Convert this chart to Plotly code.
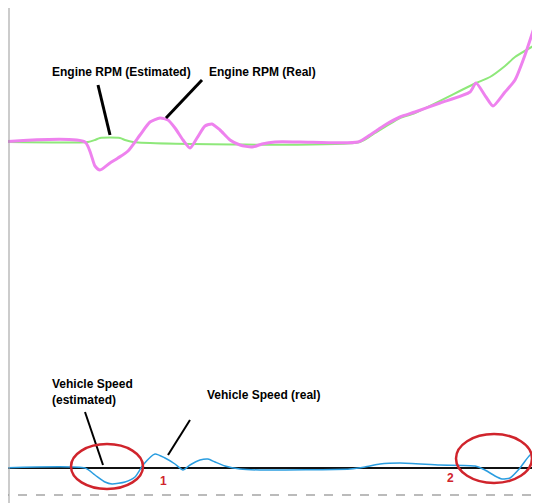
import plotly.graph_objects as go

# Engine RPM (real) trace, picture coordinates (time index, level)
rpm_real_x = [0,85,95,100,110,118,128,140,150,160,168,175,183,190,197,205,212,220,230,240,252,262,275,300,358,370,385,400,415,440,470,476,486,493,505,515,525,535]
rpm_real_y = [142,142,166,170,163,158,151,135,122,118,120,128,140,148,138,126,124,130,140,145,147,144,142,142,142,135,125,117,112,103,92,83,97,106,92,80,55,25]
rpm_est_x = [0,88,95,100,120,125,133,360,375,400,415,476,490,505,515,535]
rpm_est_y = [142,142,140,138,138,140,142,142,133,118,113,83,77,66,57,45]
spd_real_x = [0,85,95,105,112,125,135,143,155,165,175,183,190,200,208,215,225,240,260,350,365,380,400,440,475,485,495,502,510,520,530,540]
spd_real_y = [468,468,475,482,484,482,477,465,454,458,464,470,465,460,459,462,466,469,470,469,467,464,463,465,466,470,476,479,478,468,455,450]
spd_est_x = [0,540]
spd_est_y = [468,468]

OFF = 8  # page offset of the plot in the browser window

fig = go.Figure()
fig.add_trace(go.Scatter(x=rpm_est_x, y=rpm_est_y, mode="lines", line=dict(color="#8ee87a", width=2, shape="spline", smoothing=0.6)))
fig.add_trace(go.Scatter(x=rpm_real_x, y=rpm_real_y, mode="lines", line=dict(color="#ee82ee", width=3, shape="spline", smoothing=0.6)))
fig.add_trace(go.Scatter(x=spd_est_x, y=spd_est_y, mode="lines", line=dict(color="#111111", width=2)))
fig.add_trace(go.Scatter(x=spd_real_x, y=spd_real_y, mode="lines", line=dict(color="#2a9de0", width=1.5, shape="spline", smoothing=0.6)))

shapes = [
    dict(type="line", x0=0, x1=545, y0=495, y1=495, line=dict(color="#bbbbbb", width=2, dash="dash")),
    dict(type="line", x0=535, x1=535, y0=0, y1=510, line=dict(color="#999999", width=1)),
    dict(type="line", x0=OFF + 1, x1=OFF + 1, y0=0, y1=510, line=dict(color="#999999", width=1)),
    dict(type="line", x0=98, x1=110, y0=85, y1=135, line=dict(color="black", width=3)),
    dict(type="line", x0=202, x1=166, y0=80, y1=118, line=dict(color="black", width=3)),
    dict(type="line", x0=85, x1=103, y0=412, y1=465, line=dict(color="black", width=2)),
    dict(type="line", x0=190, x1=168, y0=420, y1=455, line=dict(color="black", width=2)),
    dict(type="circle", x0=71, x1=143, y0=444, y1=489, line=dict(color="#d0242c", width=2.5)),
    dict(type="circle", x0=456, x1=532, y0=434, y1=483, line=dict(color="#d0242c", width=2.5)),
]
f = dict(family="Liberation Sans", size=12, color="black")
ann = [
    dict(x=50, y=72, text="<b>Engine RPM (Estimated)</b>", xanchor="left"),
    dict(x=207, y=72, text="<b>Engine RPM (Real)</b>", xanchor="left"),
    dict(x=50, y=392, text="<b>Vehicle Speed<br>(estimated)</b>", xanchor="left", align="left"),
    dict(x=205, y=395, text="<b>Vehicle Speed (real)</b>", xanchor="left"),
    dict(x=163, y=481, text="<b>1</b>", xanchor="center", font=dict(family="Liberation Sans", size=12, color="#d0242c")),
    dict(x=450, y=478, text="<b>2</b>", xanchor="center", font=dict(family="Liberation Sans", size=12, color="#d0242c")),
]
for a in ann:
    a.setdefault("font", f)
    a.update(showarrow=False, xref="x", yref="y", yanchor="middle")

fig.update_layout(
    width=540, height=503, margin=dict(l=0, r=0, t=0, b=0),
    paper_bgcolor="white", plot_bgcolor="white", showlegend=False,
    xaxis=dict(range=[OFF, 540 + OFF], visible=False),
    yaxis=dict(range=[503 + OFF, OFF], visible=False),
    shapes=shapes, annotations=ann,
)
fig.write_html("out.html")
